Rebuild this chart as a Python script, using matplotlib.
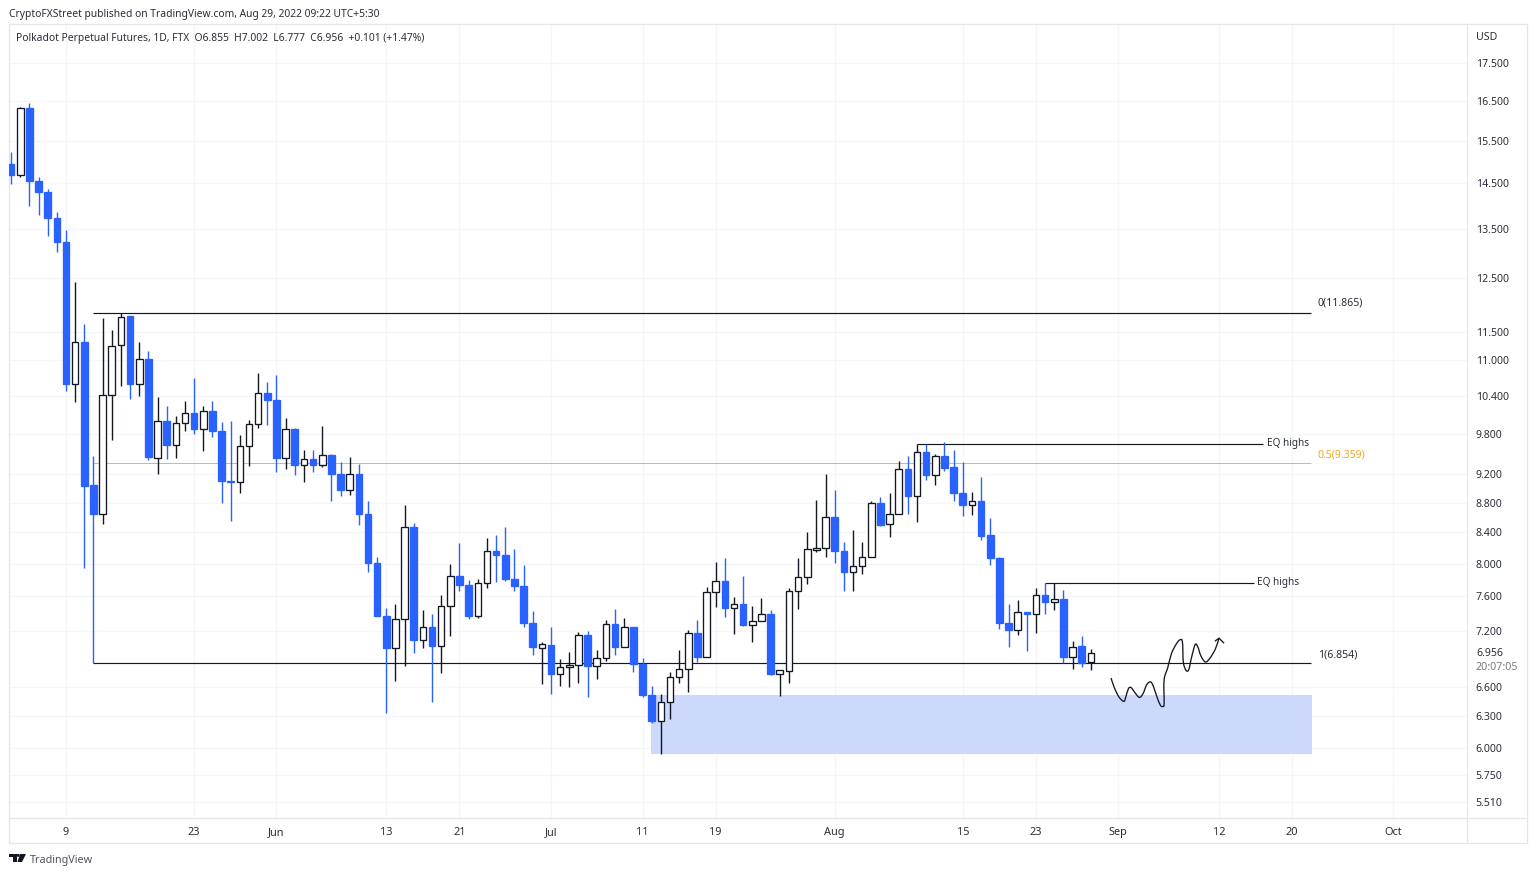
import matplotlib
matplotlib.use("Agg")
import matplotlib.pyplot as plt
import matplotlib.dates as mdates
from matplotlib.patches import Polygon, Circle, Rectangle, PathPatch
from matplotlib.path import Path
from matplotlib.lines import Line2D
from matplotlib.ticker import NullFormatter, NullLocator, FixedLocator, FixedFormatter
import pandas as pd

opens = [14.94,14.70,16.31,14.56,14.31,13.73,13.23,10.60,11.32,9.04,8.64,10.42,11.26,11.78,10.60,11.01,9.44,10.00,9.63,9.96,10.13,9.87,10.16,9.84,9.11,9.09,9.62,9.95,10.45,10.34,9.44,9.87,9.34,9.42,9.33,9.48,9.20,8.98,9.21,8.64,8.01,7.37,7.01,7.34,8.47,7.10,7.24,7.03,7.49,7.85,7.74,7.37,7.76,8.16,8.11,7.81,7.73,7.29,7.01,7.04,6.73,6.81,6.83,7.15,6.82,6.90,7.28,7.02,7.24,6.84,6.51,6.26,6.44,6.70,6.79,7.18,6.91,7.65,7.78,7.46,7.51,7.27,7.31,7.39,6.73,6.76,7.67,7.83,8.17,8.20,8.61,8.16,7.90,7.97,8.08,8.79,8.51,8.64,9.27,8.89,9.52,9.19,9.47,9.30,8.94,8.77,8.83,8.36,8.07,7.29,7.21,7.42,7.39,7.62,7.54,7.57,6.91,7.03,6.855]
highs = [15.23,16.33,16.43,14.65,14.37,13.86,13.47,12.42,11.63,9.47,11.74,11.52,11.84,11.78,11.31,11.15,10.38,10.24,10.08,10.31,10.70,10.24,10.31,9.98,10.00,9.78,10.02,10.77,10.63,10.74,10.04,9.89,9.55,9.55,9.92,9.49,9.38,9.45,9.35,8.83,8.08,7.46,7.51,8.77,8.53,7.44,7.39,7.62,8.00,8.26,7.80,7.81,8.33,8.36,8.47,8.18,7.98,7.43,7.08,7.24,6.89,6.97,7.19,7.20,6.99,7.33,7.45,7.35,7.25,6.90,6.61,6.53,6.75,6.985,7.21,7.32,7.71,8.02,8.07,7.59,7.85,7.49,7.58,7.44,6.77,7.70,8.07,8.41,8.84,9.20,8.98,8.27,8.43,8.27,8.82,8.88,8.93,9.39,9.47,9.64,9.64,9.50,9.67,9.55,9.38,8.95,9.16,8.59,8.08,7.51,7.56,7.42,7.70,7.76,7.76,7.68,7.09,7.14,7.002]
lows = [14.49,14.65,14.00,13.80,13.36,13.03,10.48,10.30,7.95,6.85,8.51,9.71,10.56,10.35,10.40,9.41,9.20,9.42,9.44,9.84,9.79,9.54,9.75,8.79,8.55,8.94,9.32,9.89,9.94,9.23,9.27,9.19,9.09,9.23,9.30,8.82,8.89,8.90,8.50,7.89,7.37,6.33,6.66,6.82,6.96,7.01,6.44,6.74,7.14,7.66,7.34,7.35,7.70,7.77,7.79,7.67,7.24,6.94,6.63,6.53,6.61,6.60,6.64,6.49,6.68,6.87,6.93,7.02,6.75,6.49,6.24,5.94,6.27,6.64,6.55,6.86,6.91,7.48,7.36,7.17,7.26,7.08,7.31,6.72,6.50,6.64,7.45,7.75,8.15,8.08,8.01,7.66,7.66,7.87,8.08,8.48,8.34,8.64,8.65,8.54,9.12,9.04,9.25,8.82,8.62,8.63,8.30,7.98,7.22,7.02,7.16,6.98,7.18,7.40,7.44,6.85,6.78,6.81,6.777]
closes = [14.70,16.31,14.56,14.30,13.73,13.23,10.60,11.32,9.03,8.64,10.42,11.25,11.77,10.60,11.01,9.45,10.00,9.63,9.96,10.13,9.87,10.16,9.84,9.11,9.09,9.62,9.95,10.45,10.34,9.44,9.87,9.34,9.42,9.33,9.48,9.20,8.98,9.21,8.64,8.01,7.37,7.01,7.34,8.47,7.10,7.24,7.03,7.49,7.85,7.74,7.37,7.76,8.16,8.11,7.81,7.73,7.29,7.02,7.05,6.73,6.81,6.83,7.15,6.82,6.90,7.28,7.02,7.24,6.84,6.51,6.26,6.44,6.70,6.79,7.18,6.91,7.65,7.78,7.46,7.51,7.27,7.31,7.39,6.73,6.77,7.67,7.83,8.18,8.20,8.61,8.16,7.90,7.97,8.08,8.80,8.50,8.64,9.27,8.89,9.52,9.19,9.47,9.29,8.94,8.77,8.83,8.35,8.07,7.29,7.21,7.42,7.39,7.62,7.54,7.57,6.91,7.02,6.85,6.956]
first_day = "2022-05-03"

price_ticks = [17.5,16.5,15.5,14.5,13.5,12.5,11.5,11.0,10.4,9.8,9.2,8.8,8.4,8.0,7.6,7.2,6.6,6.3,6.0,5.75,5.51]
date_ticks = ["2022-05-09","2022-05-23","2022-06-01","2022-06-13","2022-06-21","2022-07-01","2022-07-11","2022-07-19",
              "2022-08-01","2022-08-15","2022-08-23","2022-09-01","2022-09-12","2022-09-20","2022-10-01"]
date_labels = ["9","23","Jun","13","21","Jul","11","19","Aug","15","23","Sep","12","20","Oct"]

fib_levels = [11.84, 9.359, 6.854]
fib_labels = ["0(11.865)", "0.5(9.359)", "1(6.854)"]
fib_label_prices = [12.02, 9.48, 6.94]
fib_colors = ["#131722", "#f5a623", "#131722"]
eq_prices = [9.64, 7.76]
eq_start_days = [93, 107]
eq_end_days = [130.8, 129.8]
eq_label_days = [131.2, 130.1]
zone_low, zone_high = 5.94, 6.51
zone_start = 63.9
zone_end = 136.2

path_days = [114.2,114.6,115.1,115.6,115.8,116.1,116.4,116.8,117.3,117.7,118.1,118.5,118.8,119.2,119.6,119.9,120.0,120.0,120.4,120.8,121.3,121.7,122.0,122.1,122.4,122.7,123.0,123.4,123.7,124.0,124.5,125.0,125.6,126.0]
path_prices = [6.69,6.58,6.49,6.45,6.49,6.58,6.59,6.54,6.49,6.53,6.62,6.65,6.61,6.50,6.41,6.40,6.43,6.67,6.80,6.95,7.05,7.10,7.08,6.86,6.77,6.78,6.91,7.05,7.02,6.93,6.86,6.90,7.00,7.12]
arrow_days = [125.6,126.0,126.5]
arrow_prices = [7.09,7.12,7.07]

plt.rcParams["font.family"] = ["Noto Sans", "DejaVu Sans"]
TXT = "#2a2e39"
BLUE = "#2962ff"
DARK = "#131722"
GRID = "#f5f6fa"
BORDER = "#e4e6ee"
W, H = 1536, 874

fig = plt.figure(figsize=(W/100, H/100), dpi=100, facecolor="white")
L, R, T, B = 9, 1467, 24, 818
ax = fig.add_axes([L/W, 1-B/H, (R-L)/W, (B-T)/H])
ax.set_yscale("log")
ax.set_ylim(5.375, 18.60)

dates = pd.date_range(first_day, periods=len(opens))
x = mdates.date2num(dates)
origin = mdates.date2num(pd.Timestamp("2022-05-09"))
def day(d):
    return origin + d
ax.set_xlim(day(-6.23), day(153.1))

ax.xaxis.set_major_locator(FixedLocator(mdates.date2num(pd.to_datetime(date_ticks))))
ax.xaxis.set_major_formatter(FixedFormatter(date_labels))
ax.xaxis.set_minor_locator(NullLocator())
ax.yaxis.set_major_locator(FixedLocator(price_ticks))
ax.yaxis.set_major_formatter(FixedFormatter([f"{p:.3f}" for p in price_ticks]))
ax.yaxis.set_minor_locator(NullLocator())
ax.yaxis.set_minor_formatter(NullFormatter())
ax.yaxis.tick_right()
ax.tick_params(axis="y", length=0, pad=6.2, labelsize=7.6, labelcolor=TXT)
ax.tick_params(axis="x", length=0, pad=6.6, labelsize=7.9, labelcolor=TXT)
ax.grid(True, color=GRID, lw=0.9, zorder=0)
ax.set_axisbelow(True)
for s in ax.spines.values():
    s.set_color(BORDER)
    s.set_linewidth(0.9)

# demand zone
ax.add_patch(Rectangle((day(zone_start), zone_low), zone_end-zone_start, zone_high-zone_low,
                       facecolor="#cdd9fb", edgecolor="none", zorder=1))

# drawings under the candles
ends = day(136.0)
ax.hlines(fib_levels[0], day(2.95), ends, color=DARK, lw=0.85, zorder=2)
ax.hlines(fib_levels[1], day(2.95), ends, color=fib_colors[1], lw=0.6, zorder=2)
ax.hlines(fib_levels[2], day(2.95), ends, color=DARK, lw=0.85, zorder=2)
for lab, lp, c in zip(fib_labels, fib_label_prices, fib_colors):
    ax.text(day(136.8), lp, lab, color=c if c != DARK else TXT, fontsize=7.6, va="center", ha="left")
for p, s, e, t in zip(eq_prices, eq_start_days, eq_end_days, eq_label_days):
    ax.hlines(p, day(s), day(e), color=DARK, lw=0.85, zorder=2)
    ax.text(day(t), p * 1.001, "EQ highs", color=TXT, fontsize=7.2, va="center", ha="left")

# candles
for xi, o, h, l, c in zip(x, opens, highs, lows, closes):
    up = c >= o
    col = DARK if up else BLUE
    ax.vlines(xi, l, h, color=col, lw=1.0, zorder=3)
    ax.bar(xi, abs(c-o), bottom=min(o, c), width=0.72,
           facecolor="white" if up else BLUE, edgecolor=col, linewidth=0.95, zorder=4)

# hand-drawn projection, smoothed through the read points
px = [day(d) for d in path_days]
py = list(path_prices)
verts = [(px[0], py[0])]
codes = [Path.MOVETO]
n = len(px)
for i in range(n-1):
    a = max(i-1, 0)
    b = min(i+2, n-1)
    verts.append((px[i] + (px[i+1]-px[a])/6, py[i] + (py[i+1]-py[a])/6))
    verts.append((px[i+1] - (px[b]-px[i])/6, py[i+1] - (py[b]-py[i])/6))
    verts.append((px[i+1], py[i+1]))
    codes += [Path.CURVE4, Path.CURVE4, Path.CURVE4]
ax.add_patch(PathPatch(Path(verts, codes), facecolor="none", edgecolor=DARK, lw=0.95, zorder=5))
ax.plot([day(d) for d in arrow_days], arrow_prices, color=DARK, lw=0.95, zorder=5)

# last-price labels
tr = ax.get_yaxis_transform()
ax.text(1.0 + 9/(R-L), closes[-1]*0.999, f"{closes[-1]:.3f}", transform=tr, fontsize=7.6, color=TXT, va="center", ha="left")
ax.text(1.0 + 9/(R-L), 6.80, "20:07:05", transform=tr, fontsize=7.7, color="#787b86", va="center", ha="left", clip_on=False)

# frame around the price and time scales
def px_line(x0, y0, x1, y1, c=BORDER, lw=0.9):
    fig.add_artist(Line2D([x0/W, x1/W], [1-y0/H, 1-y1/H], color=c, lw=lw, transform=fig.transFigure))
px_line(R, T, 1527, T)
px_line(1527, T, 1527, 843)
px_line(9, 843, 1527, 843)
px_line(9, B, 9, 843)
px_line(R, B, R, 843)
px_line(R, B, 1527, B)

def ftext(tx, ty, s, **kw):
    fig.text(tx/W, 1-ty/H, s, va="center", ha="left", color=kw.pop("color", TXT), **kw)

ftext(9, 15, "CryptoFXStreet published on TradingView.com, Aug 29, 2022 09:22 UTC+5:30", fontsize=7.4)
ftext(16, 39, "Polkadot Perpetual Futures, 1D, FTX  O6.855  H7.002  L6.777  C6.956  +0.101 (+1.47%)", fontsize=7.4)
ftext(1476, 38, "USD", fontsize=7.6)
ftext(30, 860, "TradingView", fontsize=7.8, color="#50535e")

# logo
ax_logo = fig.add_axes([0, 0, 1, 1], facecolor="none", zorder=10)
ax_logo.set_xlim(0, W); ax_logo.set_ylim(H, 0); ax_logo.axis("off")
ax_logo.add_patch(Polygon([(9, 854), (16.5, 854), (16.5, 862), (12.5, 862), (12.5, 857.2), (9, 857.2)],
                          closed=True, facecolor=DARK, edgecolor="none"))
ax_logo.add_patch(Polygon([(20, 854), (26, 854), (22, 862), (17.5, 862)], closed=True, facecolor=DARK, edgecolor="none"))
ax_logo.add_patch(Circle((18.2, 855.4), 1.5, facecolor=DARK, edgecolor="none"))

fig.savefig("out.png", dpi=100, facecolor="white")
